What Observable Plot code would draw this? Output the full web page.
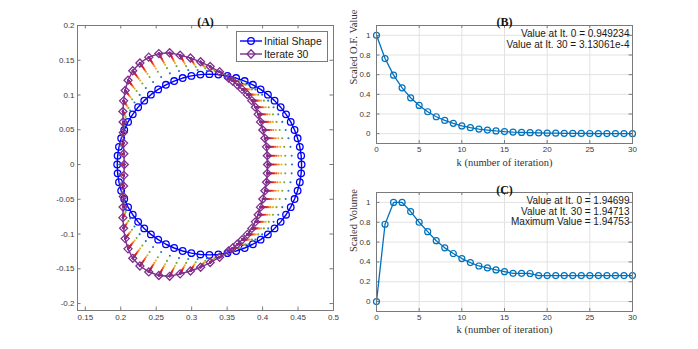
<!DOCTYPE html>
<html><head><meta charset="utf-8">
<script src="https://cdn.jsdelivr.net/npm/d3@7"></script>
<script src="https://cdn.jsdelivr.net/npm/@observablehq/plot@0.6"></script>
<style>
body{margin:0;background:#fff;}
#wrap{position:relative;width:698px;height:349px;overflow:hidden;background:#fff;}
#wrap > svg{position:absolute;left:0;top:0;}
</style></head><body><div id="wrap"></div>
<script>
// ---- Panel A data: initial shape (64 points) and iterate 30 (64 points)
const initX = [0.455,0.4544,0.4525,0.4494,0.4451,0.4397,0.4331,0.4255,0.4169,0.4075,0.3972,0.3863,0.3747,0.3627,0.3504,0.3377,
  0.325,0.3123,0.2996,0.2873,0.2753,0.2637,0.2528,0.2425,0.2331,0.2245,0.2169,0.2103,0.2049,0.2006,0.1975,0.1956,
  0.195,0.1956,0.1975,0.2006,0.2049,0.2103,0.2169,0.2245,0.2331,0.2425,0.2528,0.2637,0.2753,0.2873,0.2996,0.3123,
  0.325,0.3377,0.3504,0.3627,0.3747,0.3863,0.3972,0.4075,0.4169,0.4255,0.4331,0.4397,0.4451,0.4494,0.4525,0.4544];
const initY = [0,0.0127,0.0254,0.0377,0.0497,0.0613,0.0722,0.0825,0.0919,0.1005,0.1081,0.1147,0.1201,0.1244,0.1275,0.1294,
  0.13,0.1294,0.1275,0.1244,0.1201,0.1147,0.1081,0.1005,0.0919,0.0825,0.0722,0.0613,0.0497,0.0377,0.0254,0.0127,
  0,-0.0127,-0.0254,-0.0377,-0.0497,-0.0613,-0.0722,-0.0825,-0.0919,-0.1005,-0.1081,-0.1147,-0.1201,-0.1244,-0.1275,-0.1294,
  -0.13,-0.1294,-0.1275,-0.1244,-0.1201,-0.1147,-0.1081,-0.1005,-0.0919,-0.0825,-0.0722,-0.0613,-0.0497,-0.0377,-0.0254,-0.0127];
const finalX = [0.407,0.4066,0.4055,0.4032,0.4003,0.397,0.3938,0.3898,0.3848,0.3785,0.3712,0.3642,0.3578,0.352,0.3393,0.3261,
  0.3126,0.2983,0.2837,0.2689,0.2537,0.2395,0.227,0.2169,0.2102,0.2062,0.204,0.203,0.2033,0.2036,0.204,0.2044,
  0.205,0.2044,0.204,0.2036,0.2033,0.203,0.204,0.2062,0.2102,0.2169,0.227,0.2395,0.2537,0.2689,0.2837,0.2983,
  0.3126,0.3261,0.3393,0.352,0.3578,0.3642,0.3712,0.3785,0.3848,0.3898,0.3938,0.397,0.4003,0.4032,0.4055,0.4066];
const finalY = [0,0.0127,0.0254,0.0377,0.0497,0.0613,0.0722,0.0825,0.0919,0.1005,0.1081,0.1147,0.1201,0.1244,0.1334,0.141,
  0.1478,0.1532,0.1573,0.1608,0.1596,0.1545,0.146,0.1349,0.1213,0.1066,0.0916,0.0764,0.0612,0.046,0.0308,0.0156,
  0,-0.0156,-0.0308,-0.046,-0.0612,-0.0764,-0.0916,-0.1066,-0.1213,-0.1349,-0.146,-0.1545,-0.1596,-0.1608,-0.1573,-0.1532,
  -0.1478,-0.141,-0.1334,-0.1244,-0.1201,-0.1147,-0.1081,-0.1005,-0.0919,-0.0825,-0.0722,-0.0613,-0.0497,-0.0377,-0.0254,-0.0127];
// progress of intermediate iterates 1..29 (fraction of the way from initial to final), read from the trails
const iterFrac = [0.28,0.47,0.59,0.67,0.73,0.78,0.82,0.855,0.88,0.9,0.918,0.933,0.946,0.957,0.966,0.973,0.979,0.984,0.988,0.991,0.993,0.995,0.996,0.997,0.998,0.9985,0.999,0.9995,0.9998];
const iterColor = ["#1f78c1","#77ac30","#edb120","#f28b1e","#f25c1b","#e8341c","#e0201f","#d81e25","#cc1f2e","#cc1f2e","#c4203a","#c4203a","#b72448","#b72448","#a82a60","#a82a60","#9a2d72","#9a2d72","#902f80","#902f80","#8a2f88","#8a2f88","#852f8a","#852f8a","#822f8c","#822f8c","#802f8d","#802f8d","#7e2f8e"];
const xTicksA = [0.15,0.2,0.25,0.3,0.35,0.4,0.45,0.5];
const yTicksA = [-0.2,-0.15,-0.1,-0.05,0,0.05,0.1,0.15,0.2];
const legendLabels = ["Initial Shape","Iterate 30"];

// ---- Panels B and C
const kValues = [0,1,2,3,4,5,6,7,8,9,10,11,12,13,14,15,16,17,18,19,20,21,22,23,24,25,26,27,28,29,30];
const ofValues = [1,0.764,0.595,0.466,0.365,0.287,0.223,0.172,0.135,0.105,0.079,0.061,0.047,0.037,0.028,0.021,0.016,0.013,0.010,0.008,0.006,0.0045,0.0035,0.0027,0.002,0.0016,0.0012,0.0009,0.0007,0.0005,0.0003];
const volValues = [0,0.78,1.0,1.0,0.908,0.80,0.705,0.614,0.542,0.485,0.434,0.393,0.359,0.339,0.319,0.302,0.285,0.285,0.283,0.262,0.262,0.262,0.262,0.262,0.262,0.262,0.262,0.262,0.262,0.262,0.262];
const kTicks = [0,5,10,15,20,25,30];
const vTicks = [0,0.2,0.4,0.6,0.8,1];
const titles = ["(A)","(B)","(C)"];
const xLabel = "k (number of iteration)";
const yLabelB = "Scaled O.F. Value";
const yLabelC = "Scaled Volume";
const annotB = ["Value at It. 0 = 0.949234","Value at It. 30 = 3.13061e-4"];
const annotC = ["Value at It. 0 = 1.94699","Value at It. 30 = 1.94713","Maximum Value = 1.94753"];

const W = 698, H = 349;
const SANS = "'Liberation Sans', Arial, sans-serif";
const SERIF = "'Liberation Serif', 'Times New Roman', serif";
const FRAME = "#7a7a7a";
const wrap = document.getElementById("wrap");
const fmt = d => String(d);

function boxTicks(xt, yt, xd, yd, lx, ly) {
  return [
    Plot.ruleX(xt, {x: d => d, y1: yd[0], y2: yd[0] + ly, stroke: FRAME}),
    Plot.ruleX(xt, {x: d => d, y1: yd[1], y2: yd[1] - ly, stroke: FRAME}),
    Plot.ruleY(yt, {y: d => d, x1: xd[0], x2: xd[0] + lx, stroke: FRAME}),
    Plot.ruleY(yt, {y: d => d, x1: xd[1], x2: xd[1] - lx, stroke: FRAME})
  ];
}

// ---- Panel A
const initPts = initX.map((x, i) => ({x, y: initY[i]}));
const finalPts = finalX.map((x, i) => ({x, y: finalY[i]}));
const trail = [];
iterFrac.forEach((f, j) => initPts.forEach((p, i) => trail.push({
  x: p.x + f * (finalPts[i].x - p.x), y: p.y + f * (finalPts[i].y - p.y), c: iterColor[j]})));
const xDomA = [0.139, 0.5], yDomA = [-0.21, 0.2];
const plotA = Plot.plot({
  width: W, height: H, marginLeft: 77, marginRight: W - 333, marginTop: 25, marginBottom: H - 310,
  x: {domain: xDomA}, y: {domain: yDomA}, color: {type: "identity"},
  style: {background: "transparent", fontFamily: SANS, fontSize: "8px", color: "#3a3a3a", overflow: "visible"},
  marks: [
    ...boxTicks(xTicksA, yTicksA, xDomA, yDomA, 0.005, 0.005),
    Plot.axisX(xTicksA, {tickSize: 0, tickPadding: 4, label: null, tickFormat: fmt}),
    Plot.axisY(yTicksA, {tickSize: 0, tickPadding: 3, label: null, tickFormat: fmt}),
    Plot.line(initPts.concat([initPts[0]]), {x: "x", y: "y", stroke: "#0000ff", strokeWidth: 1.4}),
    Plot.dot(initPts, {x: "x", y: "y", r: 3.3, stroke: "#0000ff", fill: "none", strokeWidth: 1.3}),
    Plot.dot(trail, {x: "x", y: "y", r: 1.05, fill: "c", stroke: null}),
    Plot.line(finalPts.concat([finalPts[0]]), {x: "x", y: "y", stroke: "#7e2f8e", strokeWidth: 1.4}),
    Plot.dot(finalPts, {x: "x", y: "y", symbol: "diamond2", r: 3.6, stroke: "#7e2f8e", fill: "none", strokeWidth: 1.3}),
    Plot.frame({stroke: FRAME}),
    Plot.text([titles[0]], {frameAnchor: "top", dy: -8, fontFamily: SERIF, fontWeight: "bold", fontSize: 12, fill: "#111"})
  ]
});
wrap.appendChild(plotA);

// ---- Panels B & C
function seriesPlot(vals, top, bottom, title, yLabel, annot, labelDy) {
  const data = kValues.map((k, i) => ({k, v: vals[i]}));
  const xd = [0, 30], yd = [-0.1, 1.1];
  return Plot.plot({
    width: W, height: H, marginLeft: 376, marginRight: W - 632, marginTop: top, marginBottom: H - bottom,
    x: {domain: xd}, y: {domain: yd},
    style: {background: "transparent", fontFamily: SANS, fontSize: "8px", color: "#3a3a3a", overflow: "visible"},
    marks: [
      Plot.gridX(kTicks, {stroke: "#e2e2e2", strokeOpacity: 1}),
      Plot.gridY(vTicks, {stroke: "#e2e2e2", strokeOpacity: 1}),
      ...boxTicks(kTicks, vTicks, xd, yd, 0.4, 0.03),
      Plot.axisX(kTicks, {tickSize: 0, tickPadding: 3, label: null, tickFormat: fmt}),
      Plot.axisY(vTicks, {tickSize: 0, tickPadding: 6, label: null, tickFormat: fmt}),
      Plot.line(data, {x: "k", y: "v", stroke: "#0072bd", strokeWidth: 1.3}),
      Plot.dot(data, {x: "k", y: "v", r: 3, stroke: "#0072bd", fill: "none", strokeWidth: 1.2}),
      Plot.frame({stroke: FRAME}),
      Plot.text([annot.join("\n")], {frameAnchor: "top-right", textAnchor: "end", lineAnchor: "top", dx: -3, dy: 4.5,
        fontSize: 10, lineHeight: 1.05, fill: "#1a1a1a", fontFamily: SANS}),
      Plot.text([title], {frameAnchor: "top", dy: top < 100 ? -8 : -7, fontFamily: SERIF, fontWeight: "bold", fontSize: 12, fill: "#111"}),
      Plot.text([xLabel], {frameAnchor: "bottom", dy: labelDy, fontFamily: SERIF, fontSize: 10.5, fill: "#333"}),
      Plot.text([yLabel], {frameAnchor: "left", rotate: -90, dx: -23, fontFamily: SERIF, fontSize: 10.5, fill: "#333"})
    ]
  });
}
wrap.appendChild(seriesPlot(ofValues, 25, 143, titles[1], yLabelB, annotB, 22));
wrap.appendChild(seriesPlot(volValues, 192, 311, titles[2], yLabelC, annotC, 21));

// ---- Legend for panel A
const ns = "http://www.w3.org/2000/svg";
const leg = document.createElementNS(ns, "svg");
leg.setAttribute("width", 92); leg.setAttribute("height", 31);
leg.style.left = "236px"; leg.style.top = "31px";
const el = (tag, attrs) => { const e = document.createElementNS(ns, tag); for (const k in attrs) e.setAttribute(k, attrs[k]); leg.appendChild(e); return e; };
el("rect", {x: 0.5, y: 0.5, width: 91, height: 30, fill: "#fff", stroke: FRAME});
const rowsY = [10, 23];
const legColors = ["#0000ff", "#7e2f8e"];
legendLabels.forEach((lab, i) => {
  const y = rowsY[i];
  el("line", {x1: 4, x2: 26, y1: y, y2: y, stroke: legColors[i], "stroke-width": 1.4});
  if (i === 0) el("circle", {cx: 15, cy: y, r: 3.3, fill: "none", stroke: legColors[i], "stroke-width": 1.3});
  else el("path", {d: `M15,${y - 4.2}L19,${y}L15,${y + 4.2}L11,${y}Z`, fill: "none", stroke: legColors[i], "stroke-width": 1.3});
  const t = el("text", {x: 28, y: y, "dominant-baseline": "central", "font-family": SANS, "font-size": 10.5, fill: "#1a1a1a"});
  t.textContent = lab;
});
wrap.appendChild(leg);
</script></body></html>
